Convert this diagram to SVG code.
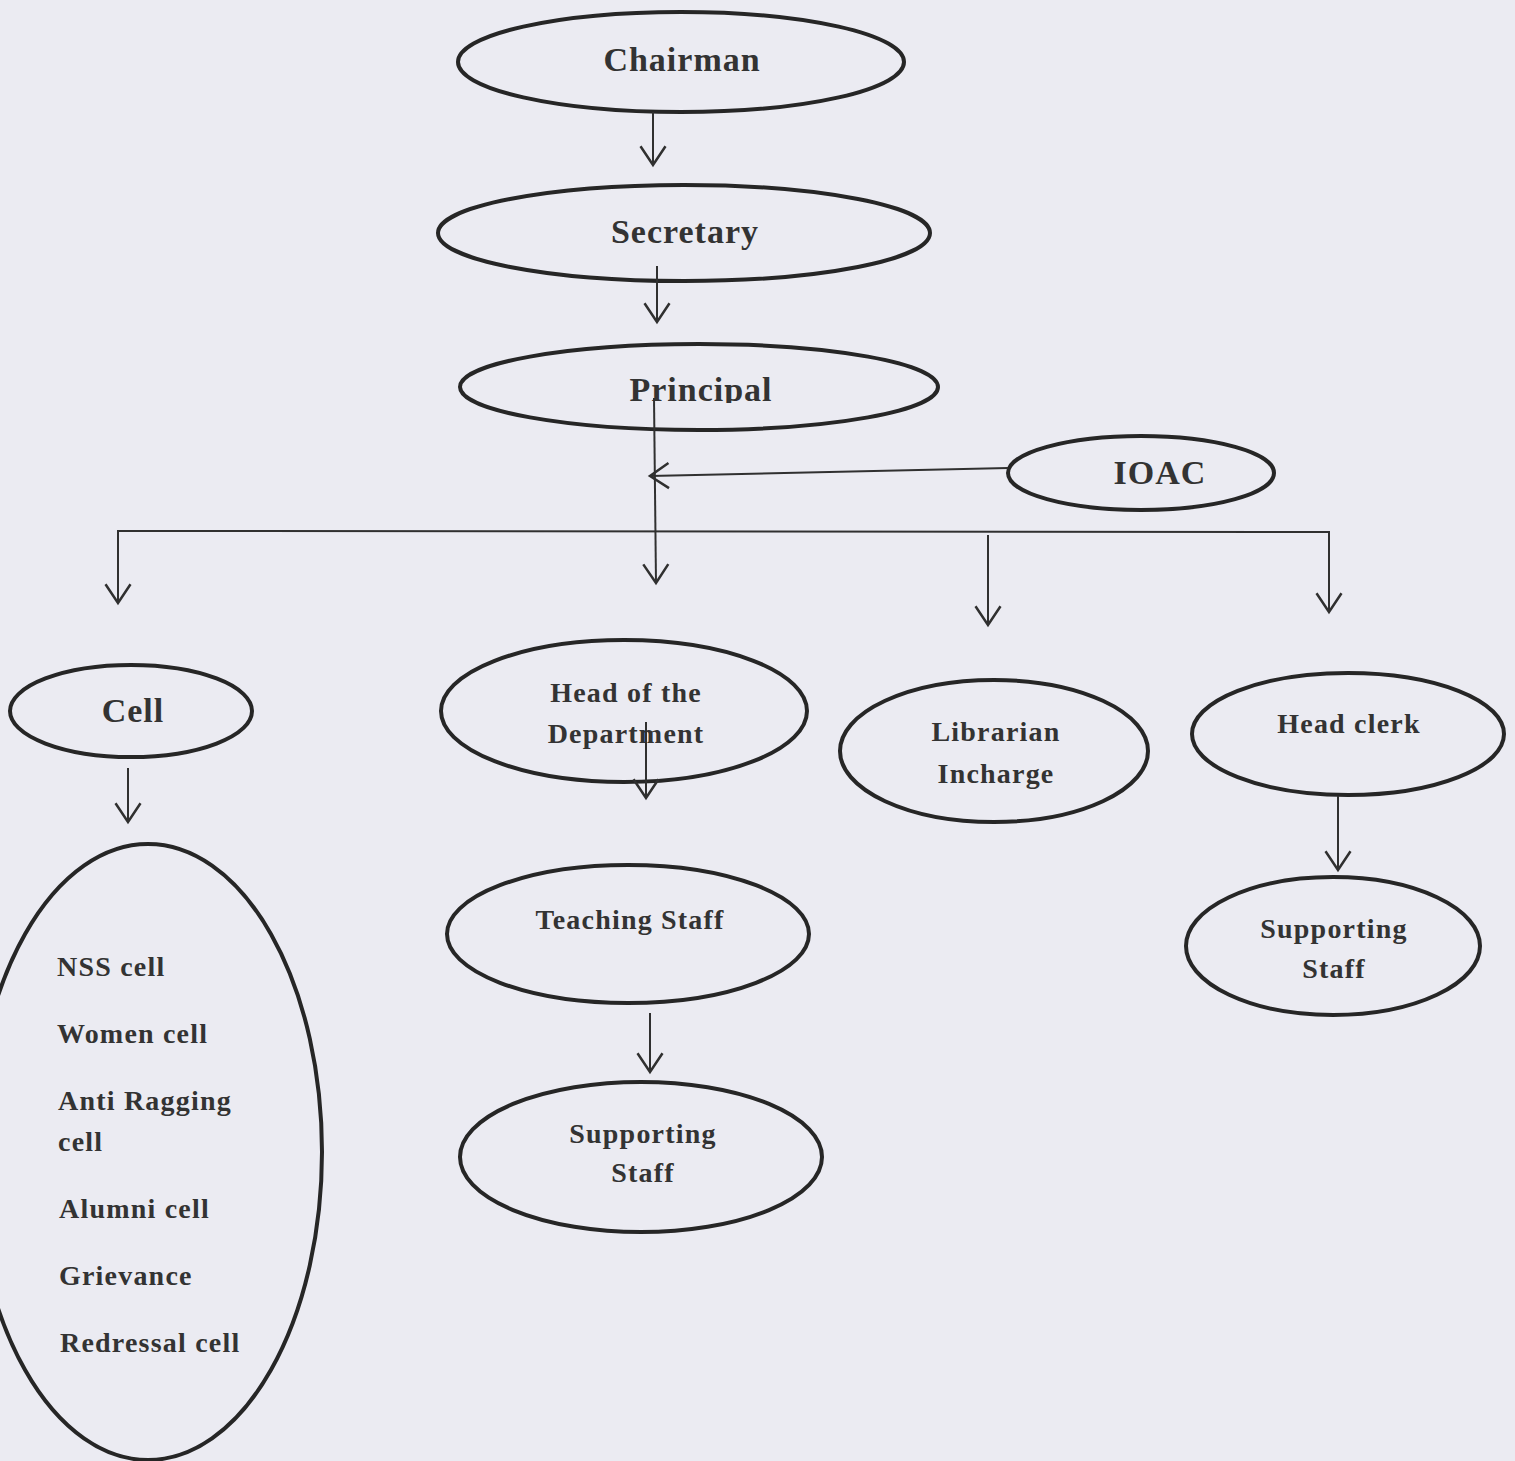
<svg xmlns="http://www.w3.org/2000/svg" width="1515" height="1461" viewBox="0 0 1515 1461">
<style>
.node{fill:none;stroke:#262626;stroke-width:4}
.big{font-family:"Liberation Serif","Times New Roman",serif;font-weight:bold;font-size:34px;letter-spacing:1px;fill:#333;text-anchor:middle}
.sm{font-family:"Liberation Serif","Times New Roman",serif;font-weight:bold;font-size:28px;letter-spacing:1.2px;fill:#333;text-anchor:middle}
.lst{font-family:"Liberation Serif","Times New Roman",serif;font-weight:bold;font-size:28px;letter-spacing:1.2px;fill:#333}
.edge{fill:none;stroke:#303030;stroke-width:2}
</style>
<defs>
<marker id="arr" markerUnits="userSpaceOnUse" markerWidth="30" markerHeight="30" viewBox="-16 -12 18 24" refX="0" refY="0" orient="auto" overflow="visible">
<path d="M-15,-10 L0,0 L-15,10" fill="none" stroke="#303030" stroke-width="2"/>
</marker>
<clipPath id="pclip"><rect x="0" y="0" width="1515" height="403"/></clipPath>
</defs>
<rect x="0" y="0" width="1515" height="1461" fill="#ebebf2"/>

<g id="chairman">
<ellipse class="node" cx="681" cy="62" rx="223" ry="50"/>
<text class="big" x="682" y="71">Chairman</text>
</g>
<g id="secretary">
<ellipse class="node" cx="684" cy="233" rx="246" ry="48"/>
<text class="big" x="685" y="243">Secretary</text>
</g>
<g id="principal">
<ellipse class="node" cx="699" cy="387" rx="239" ry="43"/>
<text class="big" x="701" y="401" clip-path="url(#pclip)">Principal</text>
</g>
<g id="ioac">
<ellipse class="node" cx="1141" cy="473" rx="133" ry="37"/>
<text class="big" x="1160" y="484">IOAC</text>
</g>
<g id="cell">
<ellipse class="node" cx="131" cy="711" rx="121" ry="46"/>
<text class="big" x="133" y="722">Cell</text>
</g>
<g id="cell-list">
<ellipse class="node" cx="148" cy="1152" rx="174" ry="308"/>
<text class="lst" x="57" y="976">NSS cell</text>
<text class="lst" x="57" y="1043">Women cell</text>
<text class="lst" x="58" y="1110">Anti Ragging</text>
<text class="lst" x="58" y="1151">cell</text>
<text class="lst" x="59" y="1218">Alumni cell</text>
<text class="lst" x="59" y="1285">Grievance</text>
<text class="lst" x="60" y="1352">Redressal cell</text>
</g>
<g id="hod">
<ellipse class="node" cx="624" cy="711" rx="183" ry="71"/>
<text class="sm" x="626" y="702">Head of the</text>
<text class="sm" x="626" y="743">Department</text>
</g>
<g id="teaching">
<ellipse class="node" cx="628" cy="934" rx="181" ry="69"/>
<text class="sm" x="630" y="929">Teaching Staff</text>
</g>
<g id="supporting-1">
<ellipse class="node" cx="641" cy="1157" rx="181" ry="75"/>
<text class="sm" x="643" y="1143">Supporting</text>
<text class="sm" x="643" y="1182">Staff</text>
</g>
<g id="librarian">
<ellipse class="node" cx="994" cy="751" rx="154" ry="71"/>
<text class="sm" x="996" y="741">Librarian</text>
<text class="sm" x="996" y="783">Incharge</text>
</g>
<g id="headclerk">
<ellipse class="node" cx="1348" cy="734" rx="156" ry="61"/>
<text class="sm" x="1349" y="733">Head clerk</text>
</g>
<g id="supporting-2">
<ellipse class="node" cx="1333" cy="946" rx="147" ry="69"/>
<text class="sm" x="1334" y="938">Supporting</text>
<text class="sm" x="1334" y="978">Staff</text>
</g>

<g id="connectors">
<line class="edge" x1="653" y1="112" x2="653" y2="165" marker-end="url(#arr)"/>
<line class="edge" x1="657" y1="266" x2="657" y2="322" marker-end="url(#arr)"/>
<line class="edge" x1="654" y1="398" x2="656" y2="583" marker-end="url(#arr)"/>
<line class="edge" x1="1008" y1="468" x2="650" y2="476" marker-end="url(#arr)"/>
<polyline class="edge" points="118,603 118,531 1329,532 1329,612"/>
<line class="edge" x1="118" y1="590" x2="118" y2="603" marker-end="url(#arr)"/>
<line class="edge" x1="1329" y1="600" x2="1329" y2="612" marker-end="url(#arr)"/>
<line class="edge" x1="988" y1="535" x2="988" y2="625" marker-end="url(#arr)"/>
<line class="edge" x1="128" y1="768" x2="128" y2="822" marker-end="url(#arr)"/>
<line class="edge" x1="646" y1="722" x2="646" y2="798" marker-end="url(#arr)"/>
<line class="edge" x1="650" y1="1013" x2="650" y2="1072" marker-end="url(#arr)"/>
<line class="edge" x1="1338" y1="796" x2="1338" y2="870" marker-end="url(#arr)"/>
</g>
</svg>
